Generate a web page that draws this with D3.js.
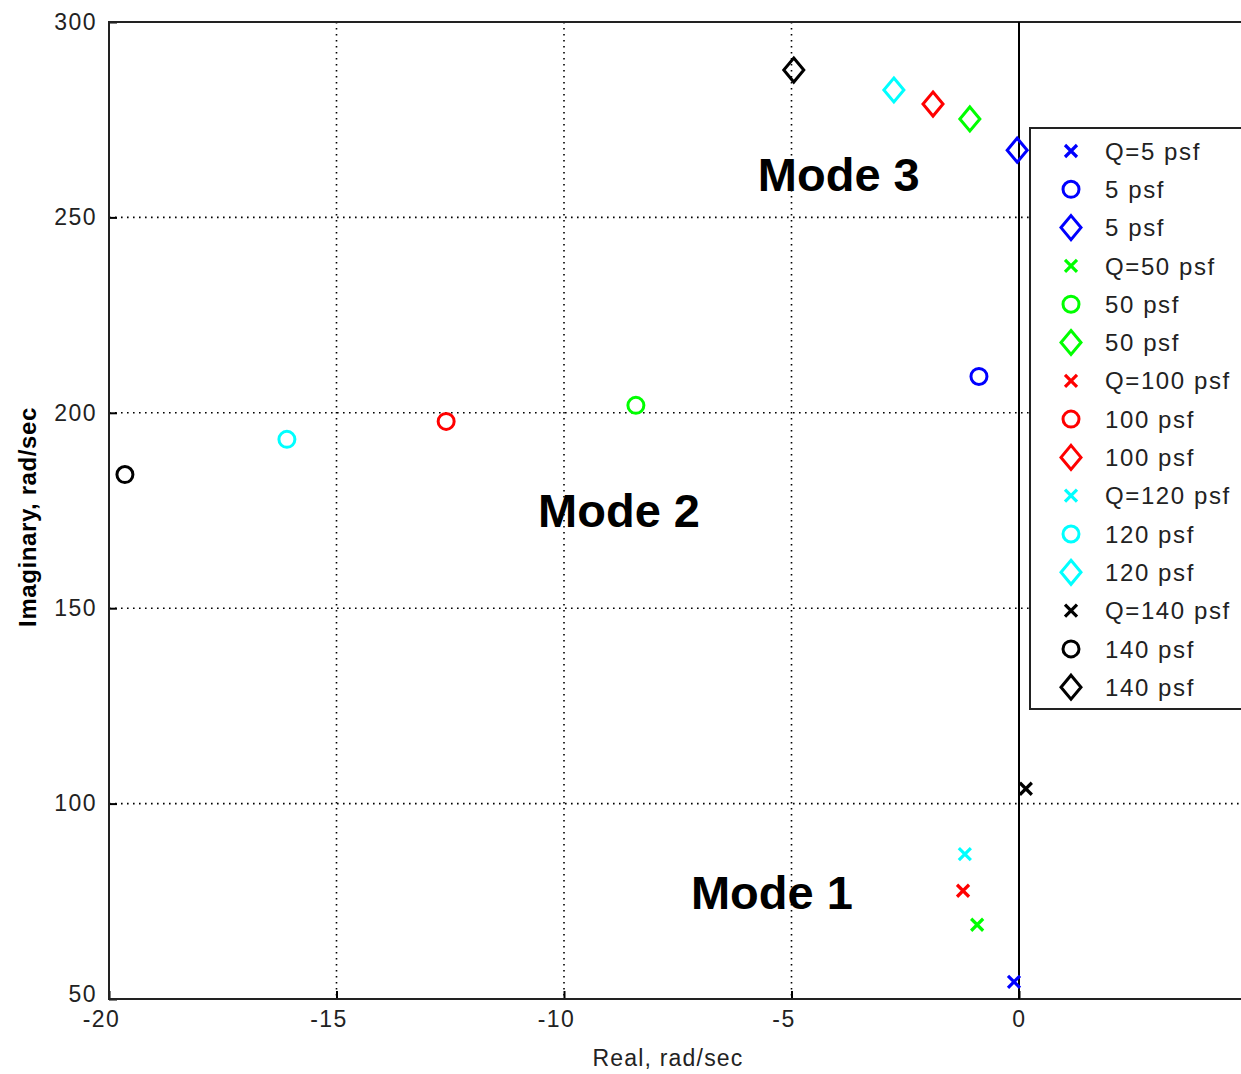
<!DOCTYPE html>
<html>
<head>
<meta charset="utf-8">
<script src="https://cdn.jsdelivr.net/npm/d3@7"></script>
<style>
  body { margin: 0; background: #fff; }
  svg { display: block; }
  .tick text { font-family: "Liberation Sans", Arial, sans-serif; font-size: 23px; fill: #222; letter-spacing: 1.5px; }
</style>
</head>
<body>
<script>
// load cases and colours
const loads = ["5", "50", "100", "120", "140"];
const colors = ["#0000ff", "#00ff00", "#ff0000", "#00ffff", "#000000"];

// Mode 1 roots (x markers)
const mode1Re = [-0.11, -0.92, -1.23, -1.19, 0.15];
const mode1Im = [54.4, 69.0, 77.7, 87.1, 103.8];
// Mode 2 roots (circles)
const mode2Re = [-0.88, -8.42, -12.59, -16.09, -19.65];
const mode2Im = [209.3, 201.9, 197.8, 193.2, 184.2];
// Mode 3 roots (diamonds)
const mode3Re = [-0.04, -1.08, -1.89, -2.75, -4.95];
const mode3Im = [267.2, 275.2, 279.0, 282.6, 287.7];

const xTicks = [-20, -15, -10, -5, 0];
const yTicks = [50, 100, 150, 200, 250, 300];

// mode annotations, in data units (left edge / baseline)
const modeLabels = ["Mode 1", "Mode 2", "Mode 3"];
const modeLabelRe = [-7.21, -10.57, -5.74];
const modeLabelIm = [73.0, 170.9, 256.7];

const W = 1241, H = 1074;
const plotLeft = 109, plotTop = 22, plotBottom = 999;

const svg = d3.select("body").append("svg")
    .attr("width", W)
    .attr("height", H);

const x = d3.scaleLinear().domain([-20, 5]).range([plotLeft, plotLeft + 25 * 45.5]);
const y = d3.scaleLinear().domain([50, 300]).range([plotBottom, plotTop]);

// grid (dotted)
const grid = svg.append("g");
grid.selectAll(".vg")
    .data(xTicks.slice(1))
    .enter().append("line")
    .attr("x1", d => x(d)).attr("x2", d => x(d))
    .attr("y1", plotTop).attr("y2", plotBottom)
    .attr("stroke", "#000").attr("stroke-width", 1.6)
    .attr("stroke-dasharray", "1.6,4.4");
grid.selectAll(".hg")
    .data(yTicks.slice(1, -1))
    .enter().append("line")
    .attr("x1", plotLeft).attr("x2", W)
    .attr("y1", d => y(d)).attr("y2", d => y(d))
    .attr("stroke", "#000").attr("stroke-width", 1.6)
    .attr("stroke-dasharray", "1.6,4.4");

// axes with inward ticks
const xAxis = svg.append("g")
    .attr("transform", `translate(0,${plotBottom})`)
    .call(d3.axisBottom(x).tickValues(xTicks).tickSizeInner(-8).tickSizeOuter(0)
        .tickPadding(12).tickFormat(d => String(d)));
xAxis.select(".domain").remove();
xAxis.selectAll(".tick line").attr("stroke-width", 2);
xAxis.selectAll(".tick text").attr("dx", d => d < 0 ? -8 : 0);

const yAxis = svg.append("g")
    .attr("transform", `translate(${plotLeft},0)`)
    .call(d3.axisLeft(y).tickValues(yTicks).tickSizeInner(-8).tickSizeOuter(0)
        .tickPadding(12).tickFormat(d => String(d)));
yAxis.select(".domain").remove();
yAxis.selectAll(".tick line").attr("stroke-width", 2);
yAxis.selectAll(".tick text").attr("dy", d => d === 50 ? "0.1em" : "0.32em");

// axes box
svg.append("path")
    .attr("d", `M${W + 5},${plotTop} H${plotLeft} V${plotBottom} H${W + 5}`)
    .attr("fill", "none")
    .attr("stroke", "#222")
    .attr("stroke-width", 2);

// zero line
svg.append("line")
    .attr("x1", x(0)).attr("x2", x(0))
    .attr("y1", plotTop).attr("y2", plotBottom)
    .attr("stroke", "#000").attr("stroke-width", 2);

// marker shapes
const xMark = s => `M${-s},${-s}L${s},${s}M${-s},${s}L${s},${-s}`;
const diamond = (w, h) => `M0,${-h}L${w},0L0,${h}L${-w},0Z`;

function drawMarker(g, type, color) {
    if (type === "x") {
        g.append("path").attr("d", xMark(6)).attr("stroke", color)
            .attr("stroke-width", 3.2).attr("fill", "none");
    } else if (type === "o") {
        g.append("circle").attr("r", 8).attr("stroke", color)
            .attr("stroke-width", 3).attr("fill", "none");
    } else {
        g.append("path").attr("d", diamond(10, 12)).attr("stroke", color)
            .attr("stroke-width", 3).attr("fill", "none");
    }
}

const modes = [
    { re: mode1Re, im: mode1Im, type: "x" },
    { re: mode2Re, im: mode2Im, type: "o" },
    { re: mode3Re, im: mode3Im, type: "d" }
];

modes.forEach(m => {
    m.re.forEach((re, i) => {
        const g = svg.append("g").attr("transform", `translate(${x(re)},${y(m.im[i])})`);
        drawMarker(g, m.type, colors[i]);
    });
});

// mode labels
svg.selectAll(".mode")
    .data(modeLabels)
    .enter().append("text")
    .attr("x", (d, i) => x(modeLabelRe[i]))
    .attr("y", (d, i) => y(modeLabelIm[i]))
    .attr("font-family", "Liberation Sans, Arial, sans-serif")
    .attr("font-weight", "bold")
    .attr("font-size", 47)
    .attr("fill", "#000")
    .text(d => d);

// axis titles
svg.append("text")
    .attr("x", 668).attr("y", 1066)
    .attr("text-anchor", "middle")
    .attr("font-family", "Liberation Sans, Arial, sans-serif")
    .attr("font-size", 23)
    .attr("letter-spacing", 1.2)
    .attr("fill", "#222")
    .text("Real, rad/sec");

svg.append("text")
    .attr("transform", "translate(36,517) rotate(-90)")
    .attr("text-anchor", "middle")
    .attr("font-family", "Liberation Sans, Arial, sans-serif")
    .attr("font-weight", "bold")
    .attr("font-size", 24)
    .attr("letter-spacing", 0.6)
    .attr("fill", "#000")
    .text("Imaginary, rad/sec");

// legend
const legendItems = [];
loads.forEach((q, i) => {
    legendItems.push({ label: `Q=${q} psf`, type: "x", color: colors[i] });
    legendItems.push({ label: `${q} psf`, type: "o", color: colors[i] });
    legendItems.push({ label: `${q} psf`, type: "d", color: colors[i] });
});

const legend = svg.append("g");
legend.append("rect")
    .attr("x", 1030).attr("y", 128)
    .attr("width", 240).attr("height", 581)
    .attr("fill", "#fff")
    .attr("stroke", "#222")
    .attr("stroke-width", 2);

const rowH = 38.3;
legendItems.forEach((it, i) => {
    const cy = 151 + i * rowH;
    const g = legend.append("g").attr("transform", `translate(1071,${cy})`);
    drawMarker(g, it.type, it.color);
    legend.append("text")
        .attr("x", 1105).attr("y", cy)
        .attr("dy", "0.36em")
        .attr("font-family", "Liberation Sans, Arial, sans-serif")
        .attr("font-size", 24)
        .attr("letter-spacing", 1.6)
        .attr("fill", "#222")
        .text(it.label);
});
</script>
</body>
</html>
